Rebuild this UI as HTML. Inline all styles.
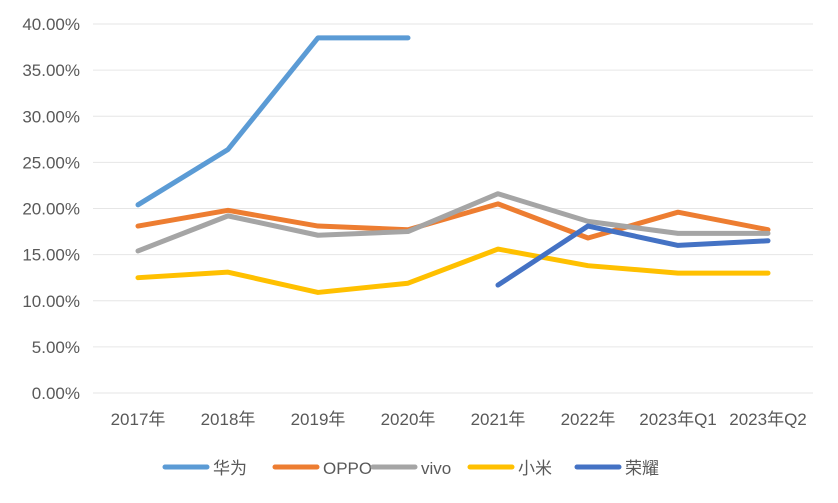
<!DOCTYPE html>
<html><head><meta charset="utf-8">
<style>
html,body{margin:0;padding:0;background:#fff;}
svg{display:block;font-family:"Liberation Sans","Noto Sans CJK SC",sans-serif;}
</style></head>
<body>
<svg id="chart" width="838" height="503"></svg>
<script>
const categories=["2017年","2018年","2019年","2020年","2021年","2022年","2023年Q1","2023年Q2"];
const yTicks=[0,5,10,15,20,25,30,35,40];
const seriesNames=["华为","OPPO","vivo","小米","荣耀"];
const huawei=[20.4,26.4,38.5,38.5,null,null,null,null];
const oppo=[18.1,19.8,18.1,17.7,20.5,16.8,19.6,17.7];
const vivo=[15.4,19.2,17.1,17.5,21.6,18.6,17.3,17.3];
const xiaomi=[12.5,13.1,10.9,11.9,15.6,13.8,13.0,13.0];
const honor=[null,null,null,null,11.7,18.1,16.0,16.5];
const seriesData=[huawei,oppo,vivo,xiaomi,honor];
const colors=["#5B9BD5","#ED7D31","#A5A5A5","#FFC000","#4472C4"];
const NS="http://www.w3.org/2000/svg";
const svg=document.getElementById('chart');
const x0=93,step=90,yBase=393,yTop=24;
const xs=i=>x0+step*(i+0.5);
const ys=v=>yBase-(v/40)*(yBase-yTop);
function mk(t,a){const e=document.createElementNS(NS,t);for(const k in a)e.setAttribute(k,a[k]);svg.appendChild(e);return e;}
yTicks.forEach(v=>{
  const g=mk('line',{x1:x0,x2:x0+step*8,y1:ys(v),y2:ys(v),stroke:'#E6E6E6','stroke-width':1});
  
  
  const t=mk('text',{x:80,y:ys(v)+6,'text-anchor':'end','font-size':17,fill:'#595959'});
  t.textContent=v.toFixed(2)+'%';
  
  
});
categories.forEach((c,i)=>{
  const t=mk('text',{x:xs(i),y:425,'text-anchor':'middle','font-size':17,fill:'#595959'});
  t.textContent=c;
  
  
});
seriesData.forEach((d,s)=>{
  let pts=[];
  d.forEach((v,i)=>{if(v!==null)pts.push(xs(i)+','+ys(v));});
  const p=mk('polyline',{points:pts.join(' '),fill:'none',stroke:colors[s],'stroke-width':5,'stroke-linejoin':'round','stroke-linecap':'round'});
  
  
});
const legX=[165,275,373,470,577];
seriesNames.forEach((n,s)=>{
  const l=mk('line',{x1:legX[s],x2:legX[s]+42,y1:467,y2:467,stroke:colors[s],'stroke-width':5,'stroke-linecap':'round'});
  
  
  const t=mk('text',{x:legX[s]+48,y:474,'font-size':17,fill:'#595959'});
  t.textContent=n;
  
  
});
</script>
</body></html>
